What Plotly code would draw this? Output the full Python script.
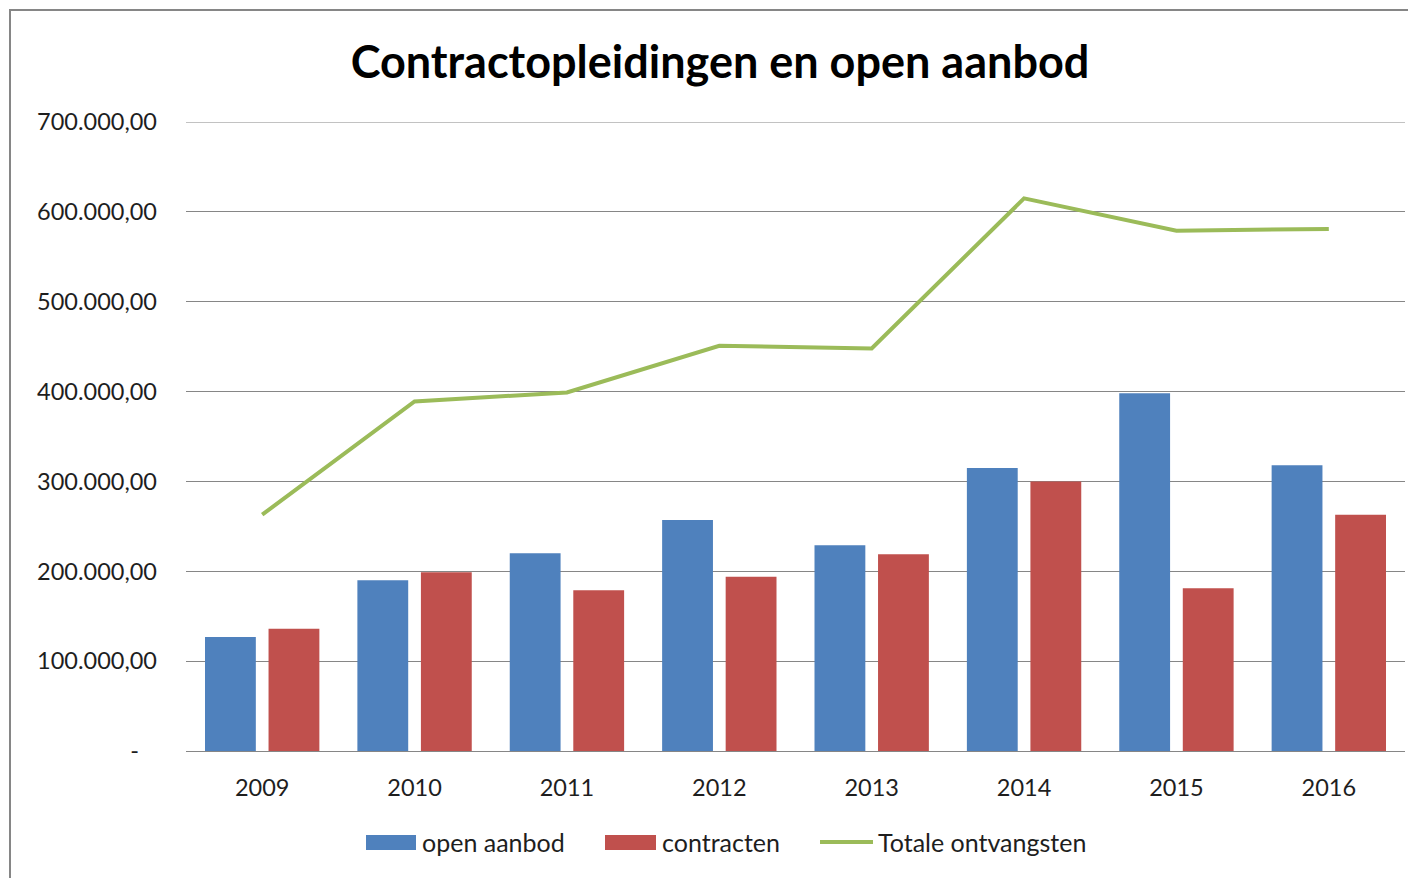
import plotly.graph_objects as go

years = ["2009", "2010", "2011", "2012", "2013", "2014", "2015", "2016"]
open_aanbod = [127000, 190000, 220000, 257000, 229000, 315000, 398000, 318000]
contracten = [136000, 199000, 179000, 194000, 219000, 300000, 181000, 263000]
totaal = [263000, 389000, 399000, 451000, 448000, 615000, 579000, 581000]

ytick_vals = [0, 100000, 200000, 300000, 400000, 500000, 600000, 700000]
ytick_text = ["-\u00a0\u00a0\u00a0", "100.000,00", "200.000,00", "300.000,00",
              "400.000,00", "500.000,00", "600.000,00", "700.000,00"]

BLUE = "#4F81BD"
RED = "#C0504D"
GREEN = "#9BBB59"
FONT = "Lato"
TXT = "#1e1e1e"

OFF = 8  # page body margin
W, H = 1416 - OFF, 878 - OFF
# plot area in page pixels: x 186..1405, y 122..751
L, R, T, B = 186 - OFF, 1416 - 1405, 122 - OFF, 878 - 751
PW, PH = W - L - R, H - T - B


def px(x):  # page pixel -> paper x
    return (x - OFF - L) / PW


def py(y):  # page pixel -> paper y
    return (H - B - (y - OFF)) / PH


fig = go.Figure()
fig.add_trace(go.Bar(x=years, y=open_aanbod, name="open aanbod", marker_color=BLUE,
                     marker_line_width=0, showlegend=False))
fig.add_trace(go.Bar(x=years, y=contracten, name="contracten", marker_color=RED,
                     marker_line_width=0, showlegend=False))
fig.add_trace(go.Scatter(x=years, y=totaal, name="Totale ontvangsten", mode="lines",
                         line=dict(color=GREEN, width=4), showlegend=False))

shapes = [
    dict(type="rect", xref="paper", yref="paper", x0=px(10), x1=px(1440),
         y0=py(900), y1=py(10), line=dict(color="#868686", width=2),
         fillcolor="rgba(0,0,0,0)", layer="below"),
    dict(type="line", xref="paper", yref="y", x0=0, x1=1, y0=700000, y1=700000,
         line=dict(color="#868686", width=1), layer="below"),
    dict(type="rect", xref="paper", yref="paper", x0=px(366), x1=px(416),
         y0=py(850), y1=py(835), line=dict(width=0), fillcolor=BLUE),
    dict(type="rect", xref="paper", yref="paper", x0=px(605), x1=px(656),
         y0=py(850), y1=py(835), line=dict(width=0), fillcolor=RED),
    dict(type="line", xref="paper", yref="paper", x0=px(820), x1=px(873),
         y0=py(842), y1=py(842), line=dict(color=GREEN, width=4)),
]

LEG = 25
annotations = [
    dict(text="open aanbod", xref="paper", yref="paper", x=px(420), y=py(842),
         xanchor="left", yanchor="middle", showarrow=False,
         font=dict(family=FONT, size=LEG, color=TXT)),
    dict(text="contracten", xref="paper", yref="paper", x=px(660), y=py(842),
         xanchor="left", yanchor="middle", showarrow=False,
         font=dict(family=FONT, size=LEG, color=TXT)),
    dict(text="Totale ontvangsten", xref="paper", yref="paper", x=px(876), y=py(842),
         xanchor="left", yanchor="middle", showarrow=False,
         font=dict(family=FONT, size=LEG, color=TXT)),
]

fig.update_layout(
    width=W, height=H,
    margin=dict(l=L, r=R, t=T, b=B, autoexpand=False),
    paper_bgcolor="white", plot_bgcolor="white",
    barmode="group", bargap=0.166, bargroupgap=0.2,
    title=dict(text="<b>Contractopleidingen en open aanbod</b>", xref="container",
               x=(720 - OFF) / W, xanchor="center",
               y=1 - (62 - OFF) / H, yanchor="middle",
               font=dict(family=FONT, size=45, color="black")),
    font=dict(family=FONT, size=23.5, color=TXT),
    shapes=shapes, annotations=annotations,
    showlegend=False,
)
fig.update_xaxes(showgrid=False, showline=True, linecolor="#868686", linewidth=1,
                 ticks="", ticklabelstandoff=16,
                 tickfont=dict(family=FONT, size=23.5, color=TXT))
fig.update_yaxes(range=[0, 700000], tickvals=ytick_vals, ticktext=ytick_text,
                 showgrid=True, gridcolor="#868686", gridwidth=1, zeroline=False,
                 showline=False, ticks="", ticklabelstandoff=28,
                 tickfont=dict(family=FONT, size=23.5, color=TXT))

fig.write_html("out.html")
